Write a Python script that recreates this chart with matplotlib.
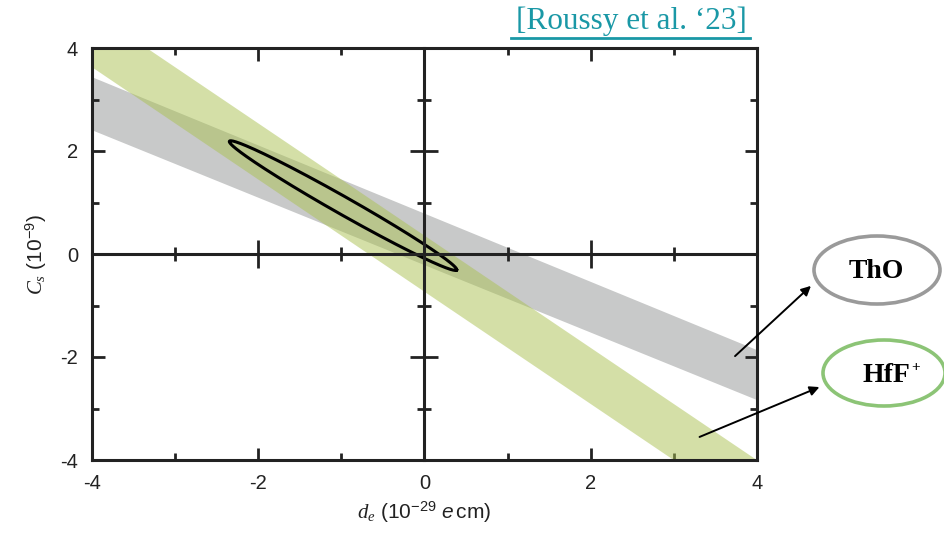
import numpy as np
import matplotlib
matplotlib.use("Agg")
import matplotlib.pyplot as plt
from matplotlib.patches import Ellipse, FancyArrowPatch

# ---- data ----
band_x = [-4.0, 4.0]
tho_upper = [3.44, -1.86]
tho_lower = [2.41, -2.83]
hff_upper = [4.72, -4.00]
hff_lower = [3.63, -5.09]
ell_center = (-0.98, 0.94)
ell_major = (1.367, -1.25)
ell_minor = (0.052, 0.147)
xticks_major = [-4, -2, 0, 2, 4]
yticks_major = [-4, -2, 0, 2, 4]
ticks_minor = [-3, -1, 1, 3]

plt.rcParams['font.family'] = ['Liberation Sans', 'DejaVu Sans']
plt.rcParams['axes.unicode_minus'] = False
plt.rcParams['mathtext.fontset'] = 'custom'
plt.rcParams['mathtext.rm'] = 'Liberation Sans'
plt.rcParams['mathtext.it'] = 'Liberation Serif:italic'
plt.rcParams['mathtext.sf'] = 'Liberation Sans:italic'

fig = plt.figure(figsize=(9.44, 5.36), dpi=100)
pos = [92/944, 1-460/536, (757-92)/944, (460-48)/536]
ax = fig.add_axes(pos)

gray = '#c8c9c9'
green = '#abc254'
ax.fill_between(band_x, tho_lower, tho_upper, color=gray, lw=0, zorder=1)
ax.fill_between(band_x, hff_lower, hff_upper, color=green, alpha=0.51, lw=0, zorder=2)

t = np.linspace(0, 2*np.pi, 300)
ex = ell_center[0] + ell_major[0]*np.cos(t) + ell_minor[0]*np.sin(t)
ey = ell_center[1] + ell_major[1]*np.cos(t) + ell_minor[1]*np.sin(t)
ax.plot(ex, ey, color='black', lw=2.2, zorder=5)

ax.set_xlim(-4, 4)
ax.set_ylim(-4, 4)
ax.set_xticks(xticks_major)
ax.set_yticks(yticks_major)
ax.set_xticks(ticks_minor, minor=True)
ax.set_yticks(ticks_minor, minor=True)
ax.tick_params(which='both', direction='in', top=True, right=True, width=2, color='#222222',
               labelsize=14.5, labelcolor='#222222')
ax.tick_params(which='major', length=9)
ax.tick_params(which='minor', length=5)
ax.tick_params(axis='x', which='major', pad=10)
ax.tick_params(axis='y', which='major', pad=10)
for s in ax.spines.values():
    s.set_linewidth(2.2)
    s.set_color('#222222')
ax.set_xlabel(r'$d_e$ (10$^{-29}$ $\mathsf{e}\,$cm)', fontsize=15, color='#222222', labelpad=5)
ax.set_ylabel(r'$C_s$ (10$^{-9}$)', fontsize=15, color='#222222', labelpad=8)

# crosshair axes with ticks through the centre lines
ax2 = fig.add_axes(pos, sharex=ax, sharey=ax)
ax2.patch.set_visible(False)
for k in ['top', 'right']:
    ax2.spines[k].set_visible(False)
ax2.spines['left'].set_position(('data', 0))
ax2.spines['bottom'].set_position(('data', 0))
for k in ['left', 'bottom']:
    ax2.spines[k].set_linewidth(2.2)
    ax2.spines[k].set_color('#222222')
ax2.tick_params(which='both', direction='inout', width=2, color='#222222',
                labelbottom=False, labelleft=False)
ax2.tick_params(which='major', length=20)
ax2.tick_params(which='minor', length=10)
ax2.set_zorder(3)

# reference link
fig.text(631/944, 1-21/536, "[Roussy et al. \u201823]", color='#1a98a6', fontsize=22.5,
         family='Liberation Serif', ha='center', va='center')
fig.add_artist(plt.Line2D([511/944, 750/944], [1-38/536, 1-38/536], color='#1a98a6', lw=2))

# annotation ellipses
fig.add_artist(Ellipse((877/944, 1-270/536), 126/944, 68/536, fill=False,
                       ec='#9a9a9a', lw=2.6, transform=fig.transFigure))
fig.text(876/944, 1-271/536, 'ThO', fontsize=20, fontweight='bold', family='Liberation Serif',
         ha='center', va='center')
fig.add_artist(Ellipse((884/944, 1-373/536), 122/944, 66/536, fill=False,
                       ec='#8cc476', lw=2.6, transform=fig.transFigure))
fig.text(910/944, 1-375/536, 'HfF', fontsize=20, fontweight='bold', family='Liberation Serif',
         ha='right', va='center')
fig.text(911/944, 1-367/536, '+', fontsize=11, fontweight='bold', family='Liberation Serif',
         ha='left', va='center')

ann = dict(arrowstyle='-|>', color='black', lw=1.4, mutation_scale=14)
fig.add_artist(FancyArrowPatch((733/944, 1-358/536), (813/944, 1-284/536),
                               transform=fig.transFigure, **ann))
fig.add_artist(FancyArrowPatch((697/944, 1-438/536), (822/944, 1-386/536),
                               transform=fig.transFigure, **ann))

fig.savefig('out.png', dpi=100)
